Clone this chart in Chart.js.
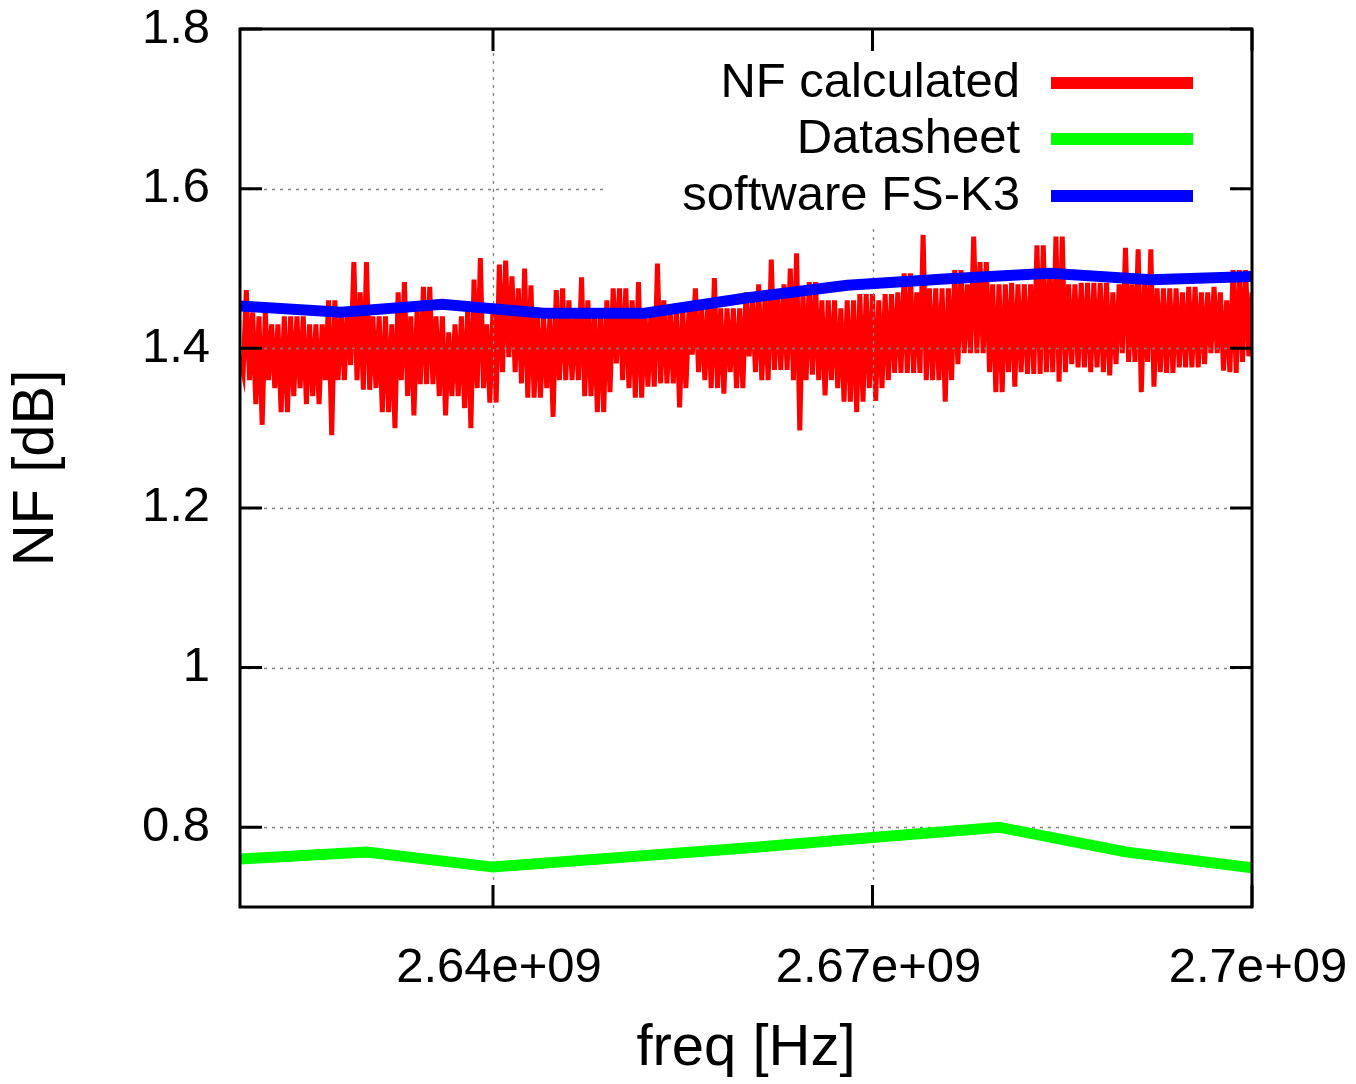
<!DOCTYPE html>
<html><head><meta charset="utf-8">
<script src="https://cdn.jsdelivr.net/npm/chart.js@4.4.1/dist/chart.umd.min.js"></script>
<style>html,body{margin:0;padding:0;background:#fff;}#wrap{width:1356px;height:1084px;}</style>
</head><body><div id="wrap"><canvas id="c" width="1356" height="1084"></canvas></div>
<script>
const seriesNames = ['NF calculated', 'Datasheet', 'software FS-K3'];
const seriesColors = ['#ff0000', '#00ff00', '#0000ff'];

const nfCalcStartHz = 2.62e9;
const nfCalcStepHz = 0.25e6;
const nfCalculated = [
1.39,1.37,1.473,1.36,1.445,1.33,1.44,1.304,1.445,1.36,
1.43,1.35,1.43,1.32,1.44,1.32,1.44,1.34,1.44,1.35,
1.44,1.33,1.43,1.34,1.43,1.33,1.43,1.36,1.46,1.291,
1.46,1.36,1.45,1.36,1.45,1.379,1.508,1.36,1.47,1.348,
1.508,1.348,1.44,1.35,1.44,1.32,1.44,1.32,1.43,1.30,
1.47,1.36,1.483,1.34,1.44,1.316,1.45,1.355,1.477,1.355,
1.477,1.355,1.44,1.34,1.44,1.316,1.42,1.34,1.43,1.34,
1.44,1.325,1.45,1.30,1.486,1.35,1.513,1.35,1.43,1.332,
1.45,1.332,1.505,1.37,1.51,1.389,1.49,1.37,1.475,1.356,
1.50,1.338,1.479,1.338,1.45,1.338,1.44,1.35,1.44,1.314,
1.473,1.36,1.475,1.36,1.46,1.36,1.45,1.36,1.489,1.34,
1.46,1.34,1.45,1.32,1.45,1.32,1.46,1.345,1.475,1.381,
1.475,1.36,1.475,1.35,1.46,1.338,1.483,1.338,1.45,1.352,
1.45,1.352,1.506,1.356,1.46,1.356,1.45,1.356,1.45,1.326,
1.45,1.35,1.45,1.392,1.475,1.37,1.45,1.36,1.46,1.35,
1.488,1.35,1.45,1.343,1.45,1.37,1.45,1.35,1.45,1.35,
1.47,1.39,1.46,1.37,1.48,1.36,1.46,1.36,1.511,1.373,
1.47,1.373,1.48,1.373,1.50,1.36,1.519,1.297,1.47,1.36,
1.483,1.367,1.483,1.36,1.46,1.341,1.46,1.36,1.46,1.35,
1.45,1.333,1.46,1.333,1.46,1.32,1.468,1.333,1.468,1.35,
1.468,1.334,1.46,1.35,1.468,1.36,1.468,1.369,1.47,1.369,
1.494,1.369,1.494,1.369,1.47,1.369,1.542,1.36,1.475,1.36,
1.475,1.36,1.475,1.333,1.475,1.36,1.498,1.38,1.498,1.394,
1.48,1.394,1.540,1.394,1.508,1.394,1.508,1.37,1.48,1.345,
1.48,1.345,1.48,1.37,1.482,1.352,1.48,1.37,1.48,1.368,
1.48,1.368,1.529,1.368,1.529,1.37,1.49,1.37,1.54,1.358,
1.54,1.37,1.48,1.38,1.48,1.376,1.482,1.376,1.482,1.37,
1.482,1.376,1.482,1.37,1.482,1.366,1.47,1.38,1.48,1.394,
1.526,1.383,1.48,1.383,1.524,1.345,1.48,1.383,1.524,1.352,
1.475,1.37,1.475,1.369,1.475,1.369,1.475,1.376,1.47,1.376,
1.477,1.376,1.477,1.376,1.47,1.38,1.47,1.394,1.477,1.394,
1.47,1.372,1.46,1.37,1.498,1.369,1.498,1.383,1.498,1.39,1.47
];

const datasheetFreqHz = [2.62e9, 2.63e9, 2.64e9, 2.65e9, 2.66e9, 2.67e9, 2.68e9, 2.69e9, 2.70e9];
const datasheetNF = [0.760, 0.769, 0.750, 0.762, 0.774, 0.787, 0.800, 0.769, 0.749];

const fsk3FreqHz = [2.620e9, 2.628e9, 2.636e9, 2.644e9, 2.652e9, 2.660e9, 2.668e9, 2.676e9, 2.684e9, 2.692e9, 2.700e9];
const fsk3NF = [1.453, 1.445, 1.455, 1.444, 1.444, 1.463, 1.479, 1.487, 1.494, 1.486, 1.490];

const xTickValues = [2.64e9, 2.67e9, 2.70e9];
const xTickLabels = ['2.64e+09', '2.67e+09', '2.7e+09'];
const yTickValues = [0.8, 1.0, 1.2, 1.4, 1.6, 1.8];
const yTickLabels = ['0.8', '1', '1.2', '1.4', '1.6', '1.8'];

const FONT = '"Liberation Sans", Arial, Helvetica, sans-serif';

const redPts = nfCalculated.map((v, i) => ({x: nfCalcStartHz + i * nfCalcStepHz, y: v}));
const greenPts = datasheetNF.map((v, i) => ({x: datasheetFreqHz[i], y: v}));
const bluePts = fsk3NF.map((v, i) => ({x: fsk3FreqHz[i], y: v}));

function labelFor(values, labels, v) {
  for (let i = 0; i < values.length; i++) if (Math.abs(values[i] - v) < 1e-6 * Math.max(1, Math.abs(v))) return labels[i];
  return '';
}

function drawGrid(chart) {
  const {ctx, chartArea: a, scales} = chart;
  ctx.save();
  ctx.strokeStyle = '#808080';
  ctx.lineWidth = 1.3;
  ctx.setLineDash([3, 5]);
  yTickValues.forEach(v => {
    const y = Math.round(scales.y.getPixelForValue(v)) + 0.5;
    if (y < a.top + 2 || y > a.bottom - 2) return;
    ctx.beginPath(); ctx.moveTo(a.left, y); ctx.lineTo(a.right, y); ctx.stroke();
  });
  xTickValues.forEach(v => {
    const x = Math.round(scales.x.getPixelForValue(v)) + 0.5;
    if (x < a.left + 2 || x > a.right - 2) return;
    ctx.beginPath(); ctx.moveTo(x, a.top); ctx.lineTo(x, a.bottom); ctx.stroke();
  });
  ctx.restore();
}

const gnuplotPlugin = {
  id: 'gnuplotLook',
  afterDatasetDraw(chart, args) {
    if (args.index === 0) drawGrid(chart);
  },
  afterDatasetsDraw(chart) {
    const {ctx, chartArea: a, scales} = chart;
    ctx.save();
    // opaque key box
    ctx.fillStyle = '#ffffff';
    ctx.fillRect(604, 52, 624, 177);
    // key entries
    const rows = [83, 139, 196];
    ctx.font = '49px ' + FONT;
    ctx.textAlign = 'right';
    ctx.textBaseline = 'middle';
    seriesNames.forEach((name, i) => {
      ctx.fillStyle = '#000';
      ctx.fillText(name, 1020, rows[i]);
      ctx.strokeStyle = seriesColors[i];
      ctx.lineWidth = 12;
      ctx.lineCap = 'butt';
      ctx.beginPath(); ctx.moveTo(1051, rows[i]); ctx.lineTo(1193, rows[i]); ctx.stroke();
    });
    // frame
    ctx.strokeStyle = '#000';
    ctx.lineWidth = 3;
    ctx.strokeRect(a.left, a.top, a.right - a.left, a.bottom - a.top);
    // inward ticks
    const tl = 22;
    ctx.beginPath();
    yTickValues.forEach(v => {
      const y = scales.y.getPixelForValue(v);
      ctx.moveTo(a.left, y); ctx.lineTo(a.left + tl, y);
      ctx.moveTo(a.right, y); ctx.lineTo(a.right - tl, y);
    });
    xTickValues.forEach(v => {
      const x = scales.x.getPixelForValue(v);
      ctx.moveTo(x, a.bottom); ctx.lineTo(x, a.bottom - tl);
      ctx.moveTo(x, a.top); ctx.lineTo(x, a.top + tl);
    });
    ctx.stroke();
    ctx.restore();
  }
};

new Chart(document.getElementById('c'), {
  type: 'line',
  data: {
    datasets: [
      {label: seriesNames[0], data: redPts, borderColor: seriesColors[0], backgroundColor: seriesColors[0], borderWidth: 5, pointRadius: 0, tension: 0, order: 3},
      {label: seriesNames[1], data: greenPts, borderColor: seriesColors[1], backgroundColor: seriesColors[1], borderWidth: 11, pointRadius: 0, tension: 0, order: 2},
      {label: seriesNames[2], data: bluePts, borderColor: seriesColors[2], backgroundColor: seriesColors[2], borderWidth: 11, pointRadius: 0, tension: 0, order: 1}
    ]
  },
  options: {
    responsive: false,
    animation: false,
    devicePixelRatio: 1,
    layout: {padding: {top: 29, right: 104, left: 0, bottom: 0}},
    plugins: {legend: {display: false}, tooltip: {enabled: false}},
    scales: {
      x: {
        type: 'linear', min: 2.62e9, max: 2.70e9,
        afterBuildTicks: s => { s.ticks = xTickValues.map(v => ({value: v})); },
        afterFit: s => { s.height = 177; s.paddingLeft = 0; s.paddingRight = 0; },
        grid: {display: false, drawTicks: false},
        border: {display: false},
        ticks: {
          callback: v => labelFor(xTickValues, xTickLabels, v),
          font: {family: FONT, size: 49}, color: '#000', padding: 32,
          maxRotation: 0, minRotation: 0, autoSkip: false, labelOffset: 6
        },
        title: {display: true, text: 'freq [Hz]', color: '#000', font: {family: FONT, size: 58, lineHeight: 1}, padding: {top: 0, bottom: 6}}
      },
      y: {
        type: 'linear', min: 0.7, max: 1.8,
        afterBuildTicks: s => { s.ticks = yTickValues.map(v => ({value: v})); },
        afterFit: s => { s.width = 240; s.paddingTop = 0; s.paddingBottom = 0; },
        grid: {display: false, drawTicks: false},
        border: {display: false},
        ticks: {
          callback: v => labelFor(yTickValues, yTickLabels, v),
          font: {family: FONT, size: 49}, color: '#000', padding: 30, autoSkip: false
        },
        title: {display: true, text: 'NF [dB]', color: '#000', font: {family: FONT, size: 58, lineHeight: 1}, padding: {top: 8, bottom: 0}}
      }
    }
  },
  plugins: [gnuplotPlugin]
});
</script>
</body></html>
